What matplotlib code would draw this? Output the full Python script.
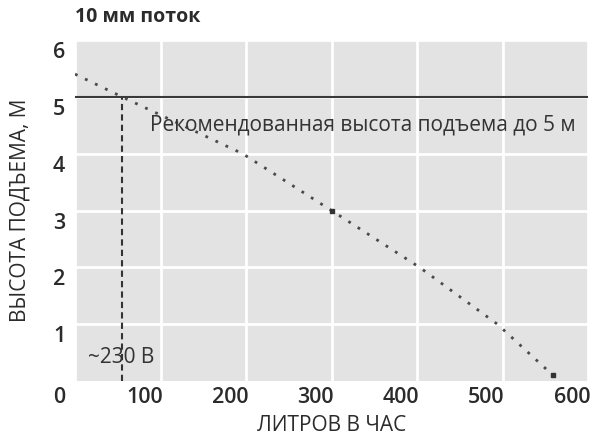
import matplotlib
matplotlib.use("Agg")
import matplotlib.pyplot as plt
from matplotlib.transforms import ScaledTranslation

plt.rcParams['font.family'] = ['Open Sans', 'DejaVu Sans']

# Data
flow = [0, 55, 196, 300, 403, 494, 559]        # litres per hour
head = [5.4, 5.0, 4.0, 3.0, 2.0, 1.0, 0.1]      # lift height, m
recommended_head = 5
flow_at_recommended = 55
x_ticks = [0, 100, 200, 300, 400, 500, 600]
y_ticks = [1, 2, 3, 4, 5, 6]
title = "10 мм поток"
x_label = "ЛИТРОВ В ЧАС"
y_label = "ВЫСОТА ПОДЪЕМА, М"
rec_text = "Рекомендованная высота подъема до 5 м"
volt_text = "~230 В"

fig = plt.figure(figsize=(5.93, 4.34), dpi=100)
ax = fig.add_axes([0.1265, 0.1221, 0.9916 - 0.1265, 0.9078 - 0.1221])
ax.set_facecolor('#e3e3e3')
ax.set_xlim(0, 600)
ax.set_ylim(0, 6)
for s in ax.spines.values():
    s.set_visible(False)

ax.set_xticks(x_ticks)
ax.set_yticks(y_ticks)
ax.grid(True, color='white', linewidth=2)
ax.set_axisbelow(True)
ax.tick_params(length=0, labelsize=15.5, labelcolor='#2b2b2b')
ax.tick_params(axis='y', pad=7)
ax.tick_params(axis='x', pad=4)
for lbl in ax.get_xticklabels():
    lbl.set_transform(lbl.get_transform() + ScaledTranslation(-0.16, 0, fig.dpi_scale_trans))
    lbl.set_fontweight('semibold')
for lbl in ax.get_yticklabels():
    lbl.set_transform(lbl.get_transform() + ScaledTranslation(0, -0.10, fig.dpi_scale_trans))
    lbl.set_fontweight('semibold')

# curve
ax.plot(flow, head, linestyle=(0, (1, 3)), color='#4a4a4a', linewidth=2, zorder=3)
ax.plot([flow[3], flow[-1]], [head[3], head[-1]], linestyle='none', marker='s',
        markersize=3, color='#333333', zorder=4)

# recommended line
ax.axhline(recommended_head, color='#3a3a3a', linewidth=1.5, zorder=3)
ax.plot([flow_at_recommended, flow_at_recommended], [0, recommended_head],
        linestyle=(0, (3, 2)), color='#333333', linewidth=1.5, zorder=3)

ax.text(88, 4.5, rec_text, fontsize=15, color='#333333', va='center', ha='left')
ax.text(15, 0.42, volt_text, fontsize=15, color='#333333', va='center', ha='left')

ax.set_xlabel(x_label, fontsize=15, color='#2b2b2b', labelpad=5)
ax.set_ylabel(y_label, fontsize=15, color='#2b2b2b', labelpad=16)
fig.text(0.1265, 0.96, title, fontsize=14, fontweight='bold', color='#2b2b2b',
         ha='left', va='center')

fig.savefig('out.png', dpi=100, facecolor='white')
